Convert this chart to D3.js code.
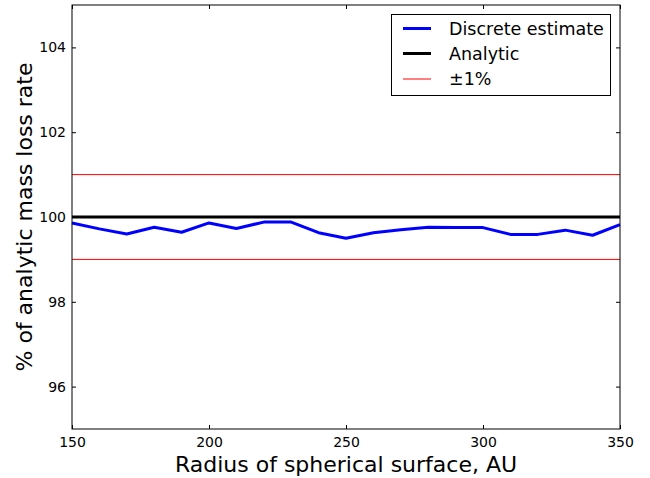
<!DOCTYPE html>
<html><head><meta charset="utf-8">
<script src="https://cdn.jsdelivr.net/npm/d3@7"></script>
<style>body{margin:0;background:#fff}svg{display:block}text{font-family:"DejaVu Sans",sans-serif}</style>
</head><body>
<script>
const radius = [150,160,170,180,190,200,210,220,230,240,250,260,270,280,290,300,310,320,330,340,350];
const discrete = [99.86,99.72,99.60,99.76,99.64,99.86,99.73,99.88,99.88,99.63,99.50,99.63,99.70,99.76,99.75,99.75,99.59,99.59,99.69,99.57,99.82];
const analytic = 100;
const bandLow = 99, bandHigh = 101;
const xTicks = [150,200,250,300,350];
const yTicks = [96,98,100,102,104];
const legendLabels = ["Discrete estimate","Analytic","\u00b11%"];

const W=650,H=478, L=72, R=620, T=5, B=429;
const svg=d3.select("body").append("svg").attr("width",W).attr("height",H);
const x=d3.scaleLinear().domain([150,350]).range([L,R]);
const y=d3.scaleLinear().domain([95,105]).range([B,T]);

const g=svg.append("g");
[bandLow,bandHigh].forEach(v=>{
  g.append("line").attr("x1",x(150)).attr("x2",x(350)).attr("y1",y(v)).attr("y2",y(v))
   .attr("stroke","#ff0000").attr("stroke-width",1);
});
g.append("line").attr("x1",x(150)).attr("x2",x(350)).attr("y1",y(analytic)).attr("y2",y(analytic))
 .attr("stroke","#000").attr("stroke-width",3);
g.append("path").datum(radius.map((r,i)=>[r,discrete[i]]))
 .attr("d",d3.line().x(d=>x(d[0])).y(d=>y(d[1])))
 .attr("fill","none").attr("stroke","#0000ff").attr("stroke-width",3).attr("stroke-linejoin","round");

const tl=4;
const ax=svg.append("g").attr("transform",`translate(0,${B})`).call(d3.axisBottom(x).tickValues(xTicks).tickSize(-tl).tickPadding(8));
const axT=svg.append("g").attr("transform",`translate(0,${T})`).call(d3.axisTop(x).tickValues(xTicks).tickSize(-tl).tickFormat(""));
const ay=svg.append("g").attr("transform",`translate(${L},0)`).call(d3.axisLeft(y).tickValues(yTicks).tickSize(-tl).tickPadding(6));
const ayR=svg.append("g").attr("transform",`translate(${R},0)`).call(d3.axisRight(y).tickValues(yTicks).tickSize(-tl).tickFormat(""));
[ax,axT,ay,ayR].forEach(a=>{a.select(".domain").remove();a.selectAll("line").attr("stroke","#000");a.selectAll("text").attr("font-size",14).attr("font-family","DejaVu Sans").attr("fill","#000");});
svg.append("rect").attr("x",L).attr("y",T).attr("width",R-L).attr("height",B-T).attr("fill","none").attr("stroke","#000").attr("stroke-width",1);

svg.append("text").attr("x",(L+R)/2).attr("y",472).attr("text-anchor","middle").attr("font-size",22).text("Radius of spherical surface, AU");
svg.append("text").attr("transform",`translate(32,${(T+B)/2}) rotate(-90)`).attr("text-anchor","middle").attr("font-size",22).text("% of analytic mass loss rate");

const lg=svg.append("g");
lg.append("rect").attr("x",391.5).attr("y",14.5).attr("width",219).attr("height",81).attr("fill","#fff").attr("stroke","#000").attr("stroke-width",1);
const lcol=["#0000ff","#000","#ff0000"], lw=[3,3,1], ly=[28.5,53.5,79];
legendLabels.forEach((t,i)=>{
  lg.append("line").attr("x1",403).attr("x2",431).attr("y1",ly[i]).attr("y2",ly[i]).attr("stroke",lcol[i]).attr("stroke-width",lw[i]);
  lg.append("text").attr("x",449).attr("y",ly[i]+6).attr("font-size",17.5).text(t);
});
</script>
</body></html>
